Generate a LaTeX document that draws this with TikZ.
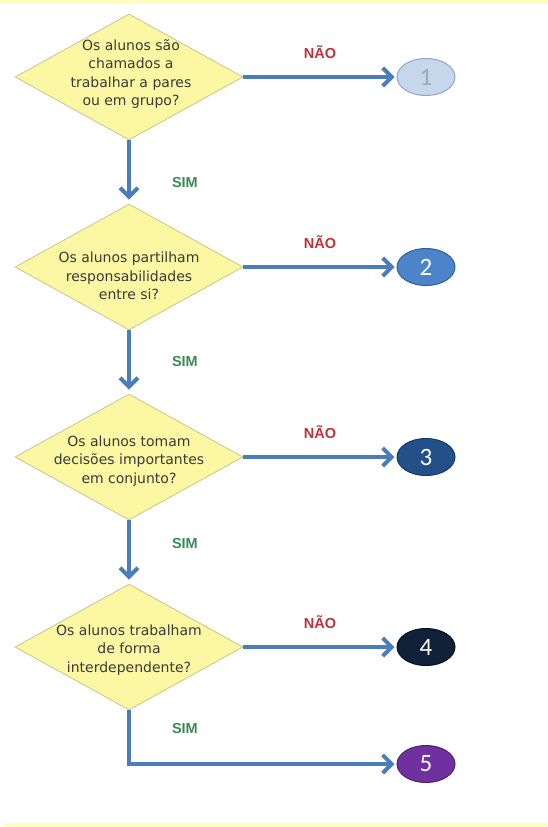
\documentclass[tikz,border=0pt]{standalone}
\usepackage{fontspec}
\setmainfont{DejaVu Sans}
\newfontfamily\labelfont{Liberation Sans}
\newfontfamily\numfont{Carlito}
\usetikzlibrary{arrows.meta, shapes.geometric, positioning}

\definecolor{bandyellow}{HTML}{FFFDC0}
\definecolor{diamondfill}{HTML}{FBF7A2}
\definecolor{diamondline}{HTML}{C9C48E}
\definecolor{qtext}{HTML}{3A3A3A}
\definecolor{flowblue}{HTML}{4A7DBA}
\definecolor{naored}{HTML}{C0323A}
\definecolor{simgreen}{HTML}{3A8A52}
\definecolor{onefill}{HTML}{C6D6EB}
\definecolor{oneline}{HTML}{8FA6C6}
\definecolor{onetext}{HTML}{9AABC0}
\definecolor{twofill}{HTML}{4C83C9}
\definecolor{twoline}{HTML}{2F5F9C}
\definecolor{threefill}{HTML}{24508A}
\definecolor{threeline}{HTML}{173764}
\definecolor{fourfill}{HTML}{0F2039}
\definecolor{fourline}{HTML}{07111F}
\definecolor{fivefill}{HTML}{7030A0}
\definecolor{fiveline}{HTML}{4E2270}

\begin{document}
\begin{tikzpicture}[x=1pt, y=-1pt,
  decision/.style={diamond, draw=diamondline, fill=diamondfill, line width=0.8pt,
    minimum width=228pt, minimum height=126pt, inner sep=0pt},
  question/.style={align=center, text=qtext, inner sep=0pt,
    font=\fontsize{14}{18.5}\selectfont},
  result/.style={ellipse, minimum width=58pt, minimum height=37pt, line width=1pt,
    inner sep=0pt, font=\numfont\fontsize{25}{25}\selectfont},
  flow/.style={line width=4pt, draw=flowblue, shorten >=2pt,
    -{Straight Barb[length=9pt,width=18pt]}},
  nao/.style={text=naored, inner sep=0pt, font=\labelfont\bfseries\fontsize{14.5}{14.5}\selectfont},
  sim/.style={text=simgreen, inner sep=0pt, font=\labelfont\bfseries\fontsize{14.5}{14.5}\selectfont}
]
\useasboundingbox (0,0) rectangle (548,827);

% Yellow bands top and bottom
\fill[bandyellow] (0,0) rectangle (548,4);
\fill[bandyellow] (4,823) rectangle (548,827);

% Decisions
\node[decision] (q1) at (129,77) {};
\node[question] (t1) at (131,74) {Os alunos são\\chamados a\\trabalhar a pares\\ou em grupo?};
\node[decision] (q2) at (129,267) {};
\node[question] (t2) at (129,276) {Os alunos partilham\\responsabilidades\\entre si?};
\node[decision] (q3) at (129,457) {};
\node[question] (t3) at (129,461) {Os alunos tomam\\decisões importantes\\em conjunto?};
\node[decision] (q4) at (129,647) {};
\node[question] (t4) at (129,650) {Os alunos trabalham\\de forma\\interdependente?};

% Results
\node[result, fill=onefill, draw=oneline, text=onetext] (r1) at (426,77) {1};
\node[result, fill=twofill, draw=twoline, text=white] (r2) at (426,267) {2};
\node[result, fill=threefill, draw=threeline, text=white] (r3) at (426,457) {3};
\node[result, fill=fourfill, draw=fourline, text=white] (r4) at (426,647) {4};
\node[result, fill=fivefill, draw=fiveline, text=white] (r5) at (426,764) {5};

% NÃO branches
\draw[flow] (q1.east) -- node[nao, above=16pt] (n1) {NÃO} (r1.west);
\draw[flow] (q2.east) -- node[nao, above=16pt] (n2) {NÃO} (r2.west);
\draw[flow] (q3.east) -- node[nao, above=16pt] (n3) {NÃO} (r3.west);
\draw[flow] (q4.east) -- node[nao, above=16pt] (n4) {NÃO} (r4.west);

% SIM branches
\draw[flow, shorten >=4pt] (q1.south) -- node[sim, pos=0.67, right=41pt] (s1) {SIM} (q2.north);
\draw[flow, shorten >=4pt] (q2.south) -- node[sim, pos=0.5, right=41pt] (s2) {SIM} (q3.north);
\draw[flow, shorten >=4pt] (q3.south) -- node[sim, pos=0.37, right=41pt] (s3) {SIM} (q4.north);
\draw[flow] (q4.south) |- node[sim, pos=0.17, right=41pt] (s4) {SIM} (r5.west);

\end{tikzpicture}
\end{document}
